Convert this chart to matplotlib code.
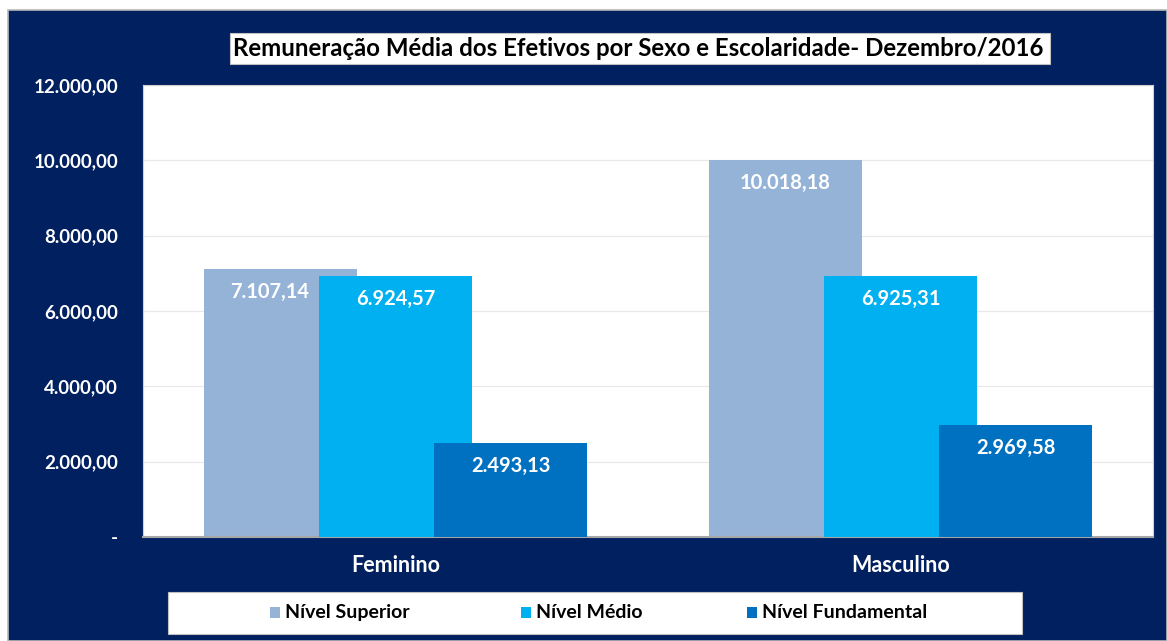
import matplotlib
matplotlib.use("Agg")
import matplotlib.pyplot as plt
from matplotlib.patches import Rectangle
import numpy as np

plt.rcParams['font.family'] = ['Lato', 'DejaVu Sans']

categories = ["Feminino", "Masculino"]
series_names = ["Nível Superior", "Nível Médio", "Nível Fundamental"]
superior = [7107.14, 10018.18]
medio = [6924.57, 6925.31]
fundamental = [2493.13, 2969.58]
value_labels = [["7.107,14", "10.018,18"], ["6.924,57", "6.925,31"], ["2.493,13", "2.969,58"]]
yticks = [0, 2000, 4000, 6000, 8000, 10000, 12000]
ytick_labels = ["-", "2.000,00", "4.000,00", "6.000,00", "8.000,00", "10.000,00", "12.000,00"]
title = "Remuneração Média dos Efetivos por Sexo e Escolaridade- Dezembro/2016"

colors = ["#95B3D7", "#00B0F0", "#0070C0"]
navy = "#002060"

W, H = 1167, 641
fig = plt.figure(figsize=(W / 100, H / 100), dpi=100)
fig.patch.set_facecolor("white")

# navy background panel
bg = Rectangle((8 / W, 0), 1 - 8 / W, (H - 10) / H, transform=fig.transFigure,
               facecolor=navy, edgecolor="#b8b8b8", linewidth=1.2, zorder=-10)
fig.add_artist(bg)

ax = fig.add_axes([143 / W, 1 - 537 / H, 1010 / W, 452 / H])
ax.set_zorder(1)
ax.set_facecolor("white")

x = np.arange(len(categories))
step = 0.228
width = 0.303
data = [superior, medio, fundamental]
for i, (vals, c) in enumerate(zip(data, colors)):
    bars = ax.bar(x + (i - 1) * step, vals, width=width, color=c, zorder=2 + i, label=series_names[i])
    for j, (b, lab) in enumerate(zip(bars, value_labels[i])):
        dx = -8 if (i == 0 and j == 0) else 0
        ax.annotate(lab, (b.get_x() + b.get_width() / 2, b.get_height()), xytext=(dx, -16.5),
                    textcoords="offset points", ha="center", va="center", color="white",
                    fontsize=14.5, fontweight="bold", zorder=10)

ax.set_xlim(-0.5, 1.5)
ax.set_ylim(0, 12000)
ax.set_yticks(yticks)
ax.set_yticklabels(ytick_labels, color="white", fontsize=13.5, fontweight="bold")
ax.set_xticks(x)
ax.set_xticklabels(categories, color="white", fontsize=15.5, fontweight="bold")
ax.tick_params(axis="y", length=0, pad=18)
ax.tick_params(axis="x", length=0, pad=13)
ax.grid(axis="y", color="#e8e8e8", linewidth=0.9, zorder=0)
ax.set_axisbelow(True)
for s in ["top", "right", "left"]:
    ax.spines[s].set_color("#d0d0d0")
    ax.spines[s].set_linewidth(0.8)
ax.spines["bottom"].set_color("#a6a6a6")
ax.spines["bottom"].set_linewidth(1.5)

# title box
fig.add_artist(Rectangle((230 / W, 1 - 64 / H), 820 / W, 31 / H, transform=fig.transFigure,
                         facecolor="white", edgecolor="#c0c0c0", linewidth=0.8, zorder=1))
fig.text(638 / W, 1 - 48.5 / H, title, ha="center", va="center", fontsize=17.3,
         fontweight="bold", color="black", zorder=5)

# legend box
fig.add_artist(Rectangle((168 / W, 1 - 634 / H), 854 / W, 42 / H, transform=fig.transFigure,
                         facecolor="white", edgecolor="#c0c0c0", linewidth=0.8, zorder=1))
leg_x = [275, 526, 752]
for lx, name, c in zip(leg_x, series_names, colors):
    fig.add_artist(Rectangle(((lx - 5) / W, 1 - 618 / H), 10 / W, 11 / H, transform=fig.transFigure,
                             facecolor=c, edgecolor="none", zorder=3))
    fig.text((lx + 10) / W, 1 - 612.5 / H, name, ha="left", va="center", fontsize=14,
             fontweight="bold", color="black", zorder=5)

fig.savefig("out.png", dpi=100, facecolor=fig.get_facecolor())
